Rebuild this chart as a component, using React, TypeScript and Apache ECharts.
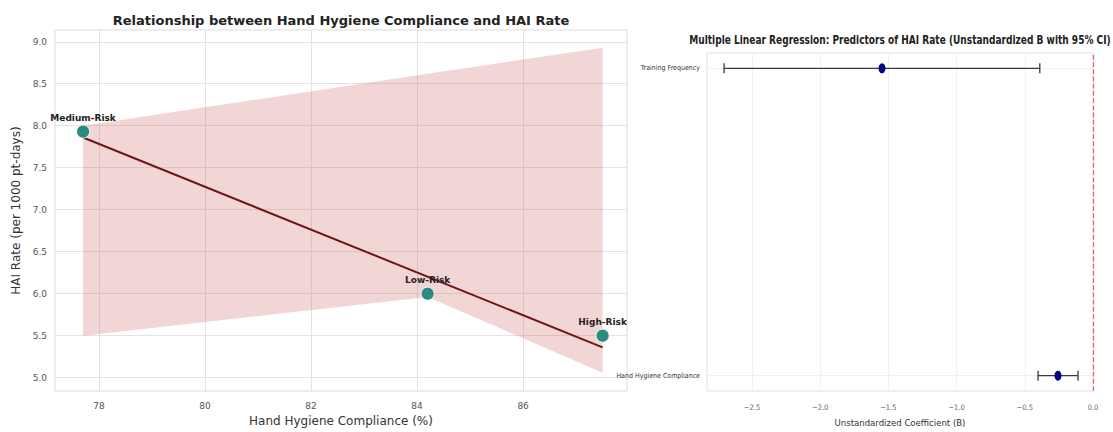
import React, { useEffect, useRef } from "react";
import * as echarts from "echarts";

// ---- Left panel data ----
const groups = ["Medium-Risk", "Low-Risk", "High-Risk"];
const compliance = [77.7, 84.2, 87.5];
const haiRate = [7.93, 6.0, 5.5];
const fitX = [77.7, 87.5];
const fitY = [7.86, 5.36];
const bandX = [77.7, 84.2, 87.5];
const bandUpper = [8.0, 8.62, 8.93];
const bandLower = [5.5, 5.96, 5.06];
const leftXTicks = [78, 80, 82, 84, 86];
const leftYTicks = [5.0, 5.5, 6.0, 6.5, 7.0, 7.5, 8.0, 8.5, 9.0];

// ---- Right panel data ----
const predictors = ["Hand Hygiene Compliance", "Training Frequency"];
const coefB = [-0.257, -1.547];
const ciLow = [-0.403, -2.705];
const ciHigh = [-0.11, -0.39];
const rightXTicks = [-2.5, -2.0, -1.5, -1.0, -0.5, 0.0];

const LEFT_TITLE = "Relationship between Hand Hygiene Compliance and HAI Rate";
const RIGHT_TITLE =
  "Multiple Linear Regression: Predictors of HAI Rate (Unstandardized B with 95% CI)";

const COND = "'DejaVu Sans Condensed', 'Liberation Sans Narrow', 'DejaVu Sans', sans-serif";

function textWidth(text: string, font: string): number {
  const ctx = document.createElement("canvas").getContext("2d");
  if (!ctx) return text.length * 7;
  ctx.font = font;
  return ctx.measureText(text).width;
}

export default function App() {
  const ref = useRef<HTMLDivElement>(null);
  useEffect(() => {
    if (!ref.current) return;
    const chart = echarts.init(ref.current, null, { renderer: "svg" });
    const rightTitleFont = "bold 12px 'DejaVu Sans'";
    const rtScale = 422 / textWidth(RIGHT_TITLE, rightTitleFont);

    const option: any = {
      animation: false,
      backgroundColor: "#ffffff",
      textStyle: { fontFamily: "'DejaVu Sans', sans-serif" },
      graphic: [
        {
          type: "text",
          x: 341,
          y: 20,
          style: {
            text: LEFT_TITLE,
            font: "bold 13px 'DejaVu Sans'",
            fill: "#222222",
            textAlign: "center",
            textVerticalAlign: "middle",
          },
        },
        {
          type: "text",
          x: 900,
          y: 40,
          scaleX: rtScale,
          style: {
            text: RIGHT_TITLE,
            font: rightTitleFont,
            fill: "#222222",
            textAlign: "center",
            textVerticalAlign: "middle",
          },
        },
      ],
      grid: [
        {
          left: 55,
          top: 30,
          width: 572,
          height: 367,
          show: true,
          borderColor: "#dcdcdc",
          borderWidth: 1,
          backgroundColor: "transparent",
        },
        {
          left: 707,
          top: 53,
          width: 386,
          height: 341,
          show: true,
          borderColor: "#e2e2e2",
          borderWidth: 1,
          backgroundColor: "transparent",
        },
      ],
      xAxis: [
        {
          gridIndex: 0,
          type: "value",
          min: 77.17,
          max: 87.96,
          axisLine: { show: false },
          axisTick: { show: false, customValues: leftXTicks },
          axisLabel: {
            customValues: leftXTicks,
            color: "#555555",
            fontSize: 9,
            margin: 10,
            formatter: (v: number) => String(Math.round(v)),
          },
          splitLine: { show: true, lineStyle: { color: "#e3e3e3", width: 1 } },
          name: "Hand Hygiene Compliance (%)",
          nameLocation: "middle",
          nameGap: 20,
          nameTextStyle: { fontSize: 12, color: "#333333" },
        },
        {
          gridIndex: 1,
          type: "value",
          min: -2.83,
          max: 0.0,
          axisLine: { show: false },
          axisTick: { show: false, customValues: rightXTicks },
          axisLabel: {
            customValues: rightXTicks,
            color: "#666666",
            fontSize: 7.5,
            fontFamily: COND,
            margin: 12,
            formatter: (v: number) => (v < 0 ? "\u2212" : "") + Math.abs(v).toFixed(1),
          },
          splitLine: { show: true, lineStyle: { color: "#f1f1f1", width: 1 } },
          name: "Unstandardized Coefficient (B)",
          nameLocation: "middle",
          nameGap: 26,
          nameTextStyle: { fontSize: 9.5, color: "#333333", fontFamily: COND },
        },
      ],
      yAxis: [
        {
          gridIndex: 0,
          type: "value",
          min: 4.84,
          max: 9.14,
          axisLine: { show: false },
          axisTick: { show: false, customValues: leftYTicks },
          axisLabel: {
            customValues: leftYTicks,
            color: "#555555",
            fontSize: 9,
            margin: 8,
            formatter: (v: number) => v.toFixed(1),
          },
          splitLine: { show: true, lineStyle: { color: "#e3e3e3", width: 1 } },
          name: "HAI Rate (per 1000 pt-days)",
          nameLocation: "middle",
          nameGap: 32,
          nameTextStyle: { fontSize: 12, color: "#333333" },
        },
        {
          gridIndex: 1,
          type: "value",
          min: -0.05,
          max: 1.05,
          axisLine: { show: false },
          axisTick: { show: false, customValues: [0, 1] },
          axisLabel: {
            customValues: [0, 1],
            color: "#333333",
            fontSize: 7,
            fontFamily: COND,
            margin: 7,
            formatter: (v: number) => predictors[Math.round(v)] ?? "",
          },
          splitLine: { show: true, lineStyle: { color: "#efefef", width: 1 } },
        },
      ],
      series: [
        {
          type: "custom",
          xAxisIndex: 0,
          yAxisIndex: 0,
          clip: true,
          z: 1,
          data: [[bandX[0], bandUpper[0]]],
          renderItem: (_p: any, api: any) => {
            const pts: number[][] = [];
            for (let i = 0; i < bandX.length; i++) pts.push(api.coord([bandX[i], bandUpper[i]]));
            for (let i = bandX.length - 1; i >= 0; i--) pts.push(api.coord([bandX[i], bandLower[i]]));
            return {
              type: "polygon",
              shape: { points: pts },
              style: { fill: "rgba(205, 92, 92, 0.25)" },
            };
          },
        },
        {
          type: "line",
          xAxisIndex: 0,
          yAxisIndex: 0,
          z: 3,
          data: fitX.map((x, i) => [x, fitY[i]]),
          showSymbol: false,
          lineStyle: { color: "#6e1616", width: 2 },
        },
        {
          type: "scatter",
          xAxisIndex: 0,
          yAxisIndex: 0,
          z: 4,
          symbolSize: 13,
          itemStyle: {
            color: "#2a8c80",
            opacity: 1,
            borderColor: "rgba(255,255,255,0.8)",
            borderWidth: 1,
          },
          data: groups.map((g, i) => ({ name: g, value: [compliance[i], haiRate[i]] })),
          label: {
            show: true,
            position: "top",
            distance: 2,
            formatter: (p: any) => p.name,
            fontSize: 9,
            fontWeight: "bold",
            color: "#222222",
          },
        },
        {
          type: "custom",
          xAxisIndex: 1,
          yAxisIndex: 1,
          z: 3,
          data: predictors.map((_, i) => [ciLow[i], ciHigh[i], i]),
          encode: { x: [0, 1], y: 2 },
          renderItem: (_p: any, api: any) => {
            const lo = api.coord([api.value(0), api.value(2)]);
            const hi = api.coord([api.value(1), api.value(2)]);
            const h = 5;
            const st = { stroke: "#3a3a3a", lineWidth: 1.3 };
            return {
              type: "group",
              children: [
                { type: "line", shape: { x1: lo[0], y1: lo[1], x2: hi[0], y2: hi[1] }, style: st },
                { type: "line", shape: { x1: lo[0], y1: lo[1] - h, x2: lo[0], y2: lo[1] + h }, style: st },
                { type: "line", shape: { x1: hi[0], y1: hi[1] - h, x2: hi[0], y2: hi[1] + h }, style: st },
              ],
            };
          },
        },
        {
          type: "scatter",
          xAxisIndex: 1,
          yAxisIndex: 1,
          z: 4,
          symbol: "circle",
          symbolSize: [7, 10],
          itemStyle: { color: "#000080", opacity: 1 },
          data: predictors.map((_, i) => [coefB[i], i]),
          markLine: {
            silent: true,
            symbol: "none",
            z: 10,
            label: { show: false },
            lineStyle: { color: "#ff3b3b", type: "dashed", width: 1.2, opacity: 0.85 },
            data: [{ xAxis: 0 }],
          },
        },
      ],
    };
    chart.setOption(option);
    return () => chart.dispose();
  }, []);
  return (
    <div
      ref={ref}
      style={{ position: "fixed", left: 0, top: 0, width: 1113, height: 432 }}
    />
  );
}
